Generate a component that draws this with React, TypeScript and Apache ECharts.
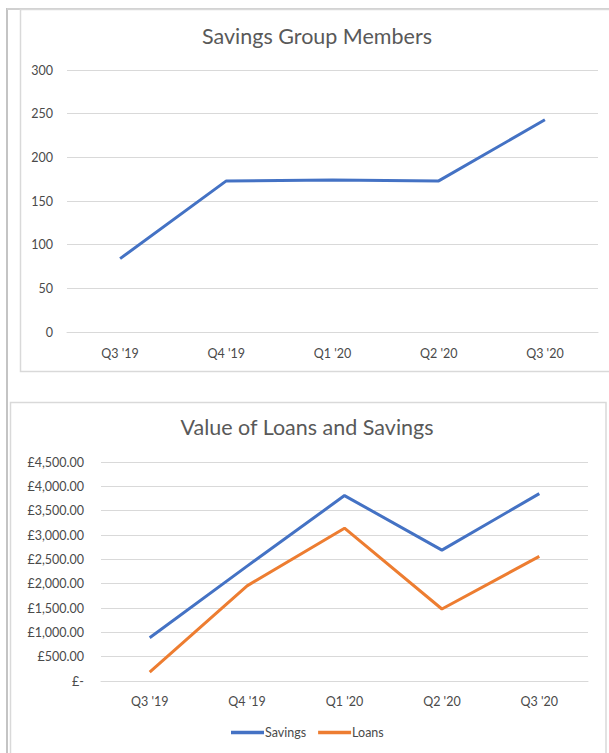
import React, { useEffect, useRef } from "react";
import * as echarts from "echarts";

const quarters = ["Q3 '19", "Q4 '19", "Q1 '20", "Q2 '20", "Q3 '20"];
const memberCounts = [84, 173, 174, 173, 243];
const savingsValues = [890, 2360, 3810, 2690, 3850];
const loanValues = [180, 1955, 3140, 1480, 2560];
const memberAxis = { min: 0, max: 300, interval: 50 };
const valueAxis = { min: 0, max: 4500, interval: 500 };
const topTitle = "Savings Group Members";
const bottomTitle = "Value of Loans and Savings";
const seriesNames = ["Savings", "Loans"];

const FONT = "Lato, 'Noto Sans', sans-serif";
const LABEL_COLOR = "#4a4a4a";
const GRID_COLOR = "#d9d9d9";

function pounds(v: number): string {
  if (v === 0) return "£-";
  return "£" + v.toLocaleString("en-GB", { minimumFractionDigits: 2, maximumFractionDigits: 2 });
}

export default function App() {
  const ref = useRef<HTMLDivElement>(null);
  useEffect(() => {
    if (!ref.current) return;
    const chart = echarts.init(ref.current, undefined, { renderer: "svg" });
    const axisLabel = { color: LABEL_COLOR, fontSize: 12.5, fontFamily: FONT };
    chart.setOption({
      animation: false,
      backgroundColor: "#ffffff",
      textStyle: { fontFamily: FONT },
      graphic: [
        { type: "line", shape: { x1: 7, y1: 8, x2: 7, y2: 753 }, style: { stroke: "#c4c4c4", lineWidth: 2 } },
        { type: "line", shape: { x1: 7, y1: 9, x2: 609, y2: 9 }, style: { stroke: "#d0d0d0", lineWidth: 2 } },
        { type: "rect", shape: { x: 20.5, y: 9.5, width: 620, height: 362 }, style: { fill: "none", stroke: "#d9d9d9", lineWidth: 1.5 } },
        { type: "rect", shape: { x: 10.5, y: 402.5, width: 595.5, height: 380 }, style: { fill: "none", stroke: "#d9d9d9", lineWidth: 1.5 } },
        { type: "text", x: 317, y: 36, style: { text: topTitle, fill: "#595959", font: `21.5px ${FONT}`, align: "center", verticalAlign: "middle" } },
        { type: "text", x: 307, y: 427, style: { text: bottomTitle, fill: "#595959", font: `21.5px ${FONT}`, align: "center", verticalAlign: "middle" } },
      ],
      legend: {
        data: seriesNames.map((n) => ({ name: n, icon: "rect" })),
        left: 226,
        top: 721,
        itemWidth: 33,
        itemHeight: 3.5,
        itemGap: 12,
        textStyle: { color: LABEL_COLOR, fontSize: 12.5, fontFamily: FONT, padding: [0, 0, 0, -4] },
      },
      grid: [
        { left: 67, right: 11, top: 70, bottom: 421 },
        { left: 101, right: 21, top: 462, bottom: 72 },
      ],
      xAxis: [
        {
          gridIndex: 0, type: "category", data: quarters, boundaryGap: true,
          axisLine: { show: true, lineStyle: { color: GRID_COLOR } }, axisTick: { show: false },
          axisLabel: { ...axisLabel, margin: 15 },
        },
        {
          gridIndex: 1, type: "category", data: quarters, boundaryGap: true,
          axisLine: { show: true, lineStyle: { color: GRID_COLOR } }, axisTick: { show: false },
          axisLabel: { ...axisLabel, margin: 14 },
        },
      ],
      yAxis: [
        {
          gridIndex: 0, type: "value", ...memberAxis,
          axisLine: { show: false }, axisTick: { show: false },
          splitLine: { lineStyle: { color: GRID_COLOR, width: 1 } },
          axisLabel: { ...axisLabel, margin: 14 },
        },
        {
          gridIndex: 1, type: "value", ...valueAxis,
          axisLine: { show: false }, axisTick: { show: false },
          splitLine: { lineStyle: { color: GRID_COLOR, width: 1 } },
          axisLabel: { ...axisLabel, margin: 17, formatter: pounds },
        },
      ],
      series: [
        {
          name: "Members", type: "line", xAxisIndex: 0, yAxisIndex: 0, data: memberCounts,
          symbol: "none", lineStyle: { color: "#4472C4", width: 3 }, itemStyle: { color: "#4472C4" },
        },
        {
          name: seriesNames[0], type: "line", xAxisIndex: 1, yAxisIndex: 1, data: savingsValues,
          symbol: "none", lineStyle: { color: "#4472C4", width: 3 }, itemStyle: { color: "#4472C4" },
        },
        {
          name: seriesNames[1], type: "line", xAxisIndex: 1, yAxisIndex: 1, data: loanValues,
          symbol: "none", lineStyle: { color: "#ED7D31", width: 3 }, itemStyle: { color: "#ED7D31" },
        },
      ],
    });
    return () => chart.dispose();
  }, []);
  return (
    <div
      ref={ref}
      style={{ position: "fixed", left: 0, top: 0, width: 609, height: 753, background: "#fff" }}
    />
  );
}
